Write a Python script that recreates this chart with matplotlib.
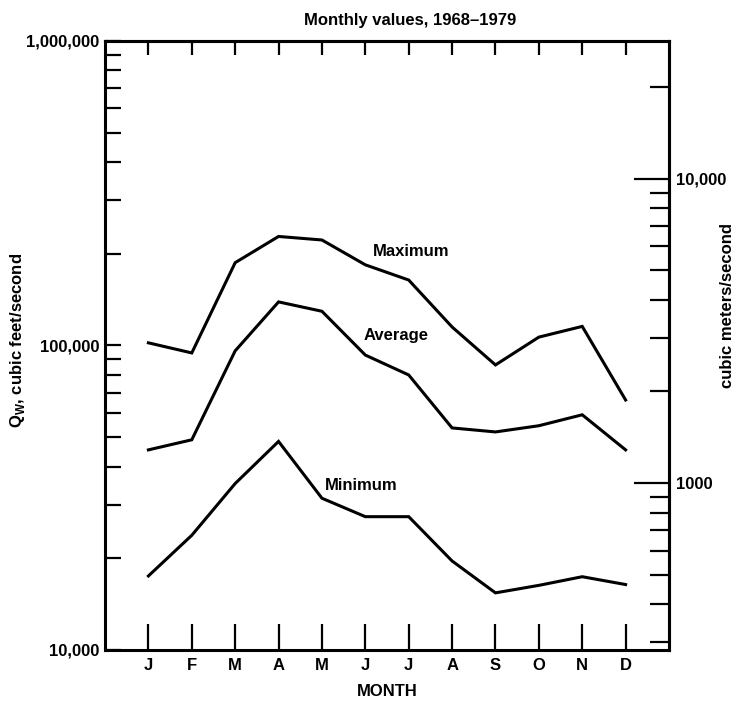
import numpy as np
import matplotlib.pyplot as plt
from matplotlib.ticker import FixedLocator, NullFormatter

plt.rcParams['font.family'] = ['Liberation Sans', 'DejaVu Sans']
plt.rcParams['font.weight'] = 'bold'

# Datos (pies cubicos por segundo)
meses = ["J", "F", "M", "A", "M", "J", "J", "A", "S", "O", "N", "D"]
maximo = [102000, 94500, 187000, 228000, 222000, 184000, 164000, 115000, 86300, 106500, 115500, 66200]
promedio = [45400, 49000, 96000, 139000, 129500, 93000, 80000, 53600, 52000, 54500, 59200, 45400]
minimo = [17500, 23800, 35200, 48400, 31500, 27400, 27400, 19600, 15400, 16300, 17400, 16400]

CFS_POR_CMS = 35.3147
x = np.arange(1, len(meses) + 1)

fig = plt.figure(figsize=(7.38, 7.01), dpi=100)
ax = fig.add_axes([0.1423, 0.0728, 0.7642, 0.8688])

for serie in (maximo, promedio, minimo):
    ax.plot(x, serie, color="black", lw=2.2, solid_joinstyle="miter")

ax.set_yscale("log")
ax.set_ylim(10000, 1000000)
ax.set_xlim(0, 13)

for s in ax.spines.values():
    s.set_linewidth(2.2)

# eje x abajo
ax.set_xticks(x)
ax.set_xticklabels(meses, fontsize=12, fontweight="bold")
ax.tick_params(axis="x", direction="in", length=18.5, width=1.6, pad=6, top=False)
ax.set_xlabel("MONTH", fontsize=12, fontweight="bold", labelpad=8)

# eje x arriba, ticks cortos
arriba = ax.secondary_xaxis("top")
arriba.set_xticks(x)
arriba.tick_params(direction="in", length=10, width=1.6, labeltop=False)
arriba.spines["top"].set_linewidth(2.2)

# eje y izquierdo
ax.yaxis.set_major_locator(FixedLocator([10000, 100000, 1000000]))
ax.set_yticklabels(["10,000", "100,000", "1,000,000"], fontsize=12, fontweight="bold")
menores = [m * d for d in (10000, 100000) for m in range(2, 10)]
ax.yaxis.set_minor_locator(FixedLocator(menores))
ax.yaxis.set_minor_formatter(NullFormatter())
ax.tick_params(axis="y", which="major", direction="in", length=11.5, width=1.6, right=False, pad=4)
ax.tick_params(axis="y", which="minor", direction="in", length=11.5, width=1.6, right=False)

# eje y derecho en metros cubicos por segundo
der = ax.secondary_yaxis("right", functions=(lambda v: v / CFS_POR_CMS, lambda v: v * CFS_POR_CMS))
der.yaxis.set_major_locator(FixedLocator([1000, 10000]))
der.set_yticklabels(["1000", "10,000"], fontsize=12, fontweight="bold")
der_menores = [m * 100 for m in range(3, 10)] + [m * 1000 for m in range(2, 10)] + [20000]
der.yaxis.set_minor_locator(FixedLocator(der_menores))
der.yaxis.set_minor_formatter(NullFormatter())
der.tick_params(which="major", direction="in", length=25, width=1.6, pad=5)
der.tick_params(which="minor", direction="in", length=14, width=1.6)
der.spines["right"].set_linewidth(2.2)

# etiquetas de las curvas
ax.text(7.05, 203000, "Maximum", fontsize=12, fontweight="bold", ha="center", va="center")
ax.text(6.7, 108000, "Average", fontsize=12, fontweight="bold", ha="center", va="center")
ax.text(5.9, 34800, "Minimum", fontsize=12, fontweight="bold", ha="center", va="center")

fig.text(410 / 738, 1 - 20 / 701, "Monthly values, 1968\u20131979", fontsize=12,
         fontweight="bold", ha="center", va="center")
fig.text(18 / 738, 1 - 340 / 701, r"Q$_\mathregular{W}$, cubic feet/second", rotation=90,
         fontsize=12, fontweight="bold", ha="center", va="center")
fig.text(728 / 738, 1 - 305 / 701, "cubic meters/second", rotation=90,
         fontsize=12, fontweight="bold", ha="center", va="center")

fig.savefig("out.png", dpi=100)
